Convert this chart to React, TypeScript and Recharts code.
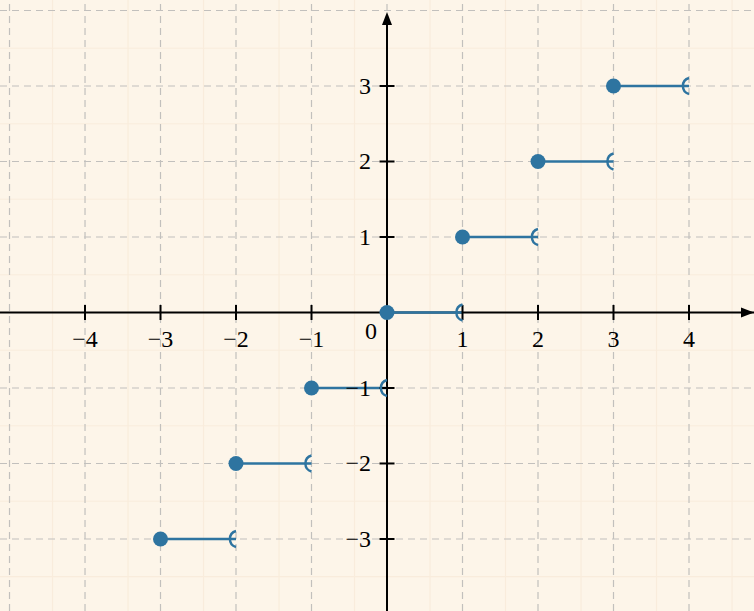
import React from 'react';
import { ComposedChart, Line, XAxis, YAxis, ReferenceLine, ReferenceDot } from 'recharts';

// --- Data ---
const stepStarts = [-3, -2, -1, 0, 1, 2, 3];
const stepEnds = [-2, -1, 0, 1, 2, 3, 4];
const stepValues = [-3, -2, -1, 0, 1, 2, 3];

const xTicks = [-4, -3, -2, -1, 1, 2, 3, 4];
const yTicks = [-3, -2, -1, 1, 2, 3];
const xTickLabels = ['−4', '−3', '−2', '−1', '1', '2', '3', '4'];
const yTickLabels = ['−3', '−2', '−1', '1', '2', '3'];

const gridX = [-5, -4, -3, -2, -1, 0, 1, 2, 3, 4];
const gridY = [-3, -2, -1, 0, 1, 2, 3, 4];
const minorX = [-4.43, -3.43, -2.43, -1.43, -0.43, 0.57, 1.57, 2.57, 3.57, 4.57];
const minorY = [-3.5, -2.5, -1.5, -0.5, 0.5, 1.5, 2.5, 3.5];

const X_MIN = -5.126;
const X_MAX = 4.861;
const Y_MIN = -3.954;
const Y_MAX = 4.139;
const Y_ARROW = 3.98;

const BLUE = '#2e74a0';
const FONT = "'Liberation Serif', 'DejaVu Serif', serif";

const segments = stepStarts.map((s, i) => [
  { x: s, y: stepValues[i] },
  { x: stepEnds[i], y: stepValues[i] },
]);

// --- Shapes ---
const StepDot = (props: any) => {
  const { cx, cy, index } = props;
  if (cx == null || cy == null) return <g />;
  if (index === 0) {
    return <circle cx={cx} cy={cy} r={7.5} fill={BLUE} />;
  }
  return (
    <path
      d={`M ${cx} ${cy - 8} A 8.3 8.3 0 0 0 ${cx} ${cy + 8}`}
      fill="none"
      stroke={BLUE}
      strokeWidth={2.4}
    />
  );
};

const XTick = (label: string) => (props: any) => {
  const { cx, cy } = props;
  return (
    <g>
      <line x1={cx} y1={cy - 7.5} x2={cx} y2={cy + 7.5} stroke="#000" strokeWidth={2} />
      <text x={cx} y={cy + 35} textAnchor="middle" fontFamily={FONT} fontSize={24} fill="#000">
        {label}
      </text>
    </g>
  );
};

const YTick = (label: string) => (props: any) => {
  const { cx, cy } = props;
  return (
    <g>
      <line x1={cx - 7.5} y1={cy} x2={cx + 7.5} y2={cy} stroke="#000" strokeWidth={2} />
      <text x={cx - 16} y={cy + 8} textAnchor="end" fontFamily={FONT} fontSize={24} fill="#000">
        {label}
      </text>
    </g>
  );
};

const OriginLabel = (props: any) => {
  const { cx, cy } = props;
  return (
    <text x={cx - 10} y={cy + 27} textAnchor="end" fontFamily={FONT} fontSize={24} fill="#000">
      0
    </text>
  );
};

const UpArrow = (props: any) => {
  const { cx, cy } = props;
  return <path d={`M ${cx} ${cy} L ${cx - 5} ${cy + 13} L ${cx + 5} ${cy + 13} Z`} fill="#000" />;
};

const RightArrow = (props: any) => {
  const { cx, cy } = props;
  return <path d={`M ${cx} ${cy} L ${cx - 13} ${cy - 5} L ${cx - 13} ${cy + 5} Z`} fill="#000" />;
};

const App: React.FC = () => {
  return (
    <div style={{ position: 'absolute', left: 0, top: 0, width: 754, height: 611, background: '#fdf5e9' }}>
      <ComposedChart width={754} height={611} margin={{ top: 0, right: 0, bottom: 0, left: 0 }}>
        <XAxis type="number" dataKey="x" domain={[X_MIN, X_MAX]} allowDataOverflow hide />
        <YAxis type="number" dataKey="y" domain={[Y_MIN, Y_MAX]} allowDataOverflow hide />

        {/* faint background grid */}
        {minorX.map(v => (
          <ReferenceLine key={`mx${v}`} x={v} stroke="#f9ecdc" strokeWidth={1.2} />
        ))}
        {minorY.map(v => (
          <ReferenceLine key={`my${v}`} y={v} stroke="#f9ecdc" strokeWidth={1.2} />
        ))}

        {/* dashed major grid */}
        {gridX.map(v => (
          <ReferenceLine key={`gx${v}`} x={v} stroke="#c2c0bd" strokeWidth={1.2} strokeDasharray="7 5" />
        ))}
        {gridY.map(v => (
          <ReferenceLine key={`gy${v}`} y={v} stroke="#c2c0bd" strokeWidth={1.2} strokeDasharray="7 5" />
        ))}

        {/* axes */}
        <ReferenceLine y={0} stroke="#000" strokeWidth={2} />
        <ReferenceLine
          segment={[{ x: 0, y: Y_MIN }, { x: 0, y: Y_ARROW - 0.1 }]}
          stroke="#000"
          strokeWidth={2}
        />
        <ReferenceDot x={0} y={Y_ARROW} r={1} ifOverflow="visible" shape={UpArrow} />
        <ReferenceDot x={X_MAX} y={0} r={1} ifOverflow="visible" shape={RightArrow} />

        {xTicks.map((t, i) => (
          <ReferenceDot key={`xt${t}`} x={t} y={0} r={1} shape={XTick(xTickLabels[i])} />
        ))}
        {yTicks.map((t, i) => (
          <ReferenceDot key={`yt${t}`} x={0} y={t} r={1} shape={YTick(yTickLabels[i])} />
        ))}
        <ReferenceDot x={0} y={0} r={1} shape={OriginLabel} />

        {/* floor function steps */}
        {segments.map((seg, i) => (
          <Line
            key={`step${i}`}
            data={seg}
            dataKey="y"
            type="linear"
            stroke={BLUE}
            strokeWidth={2.4}
            dot={StepDot}
            activeDot={false}
            isAnimationActive={false}
          />
        ))}
      </ComposedChart>
    </div>
  );
};

export default App;
